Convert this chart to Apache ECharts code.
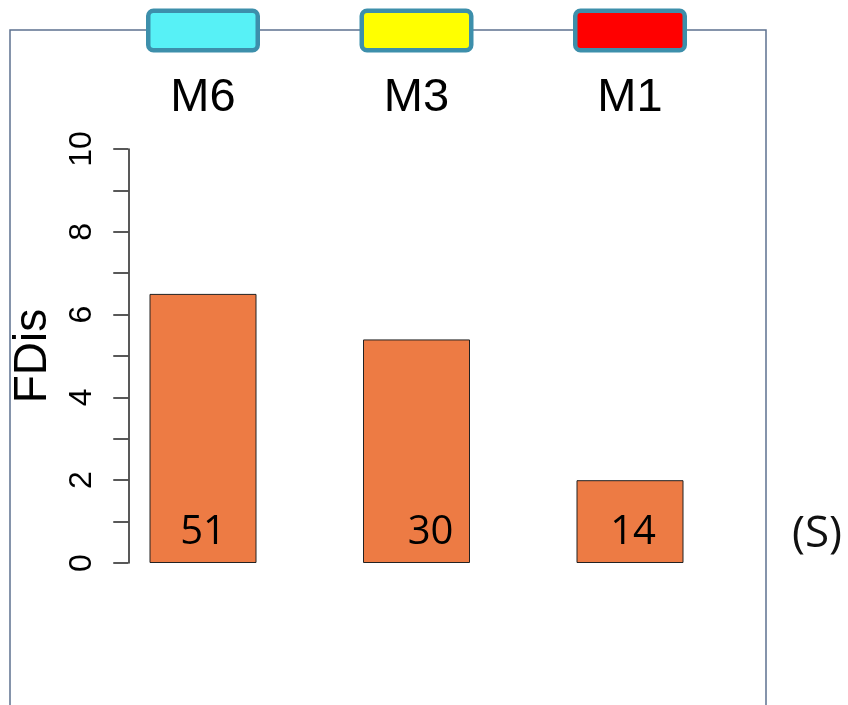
<!DOCTYPE html>
<html>
<head>
<meta charset="utf-8">
<script src="https://cdn.jsdelivr.net/npm/echarts@6/dist/echarts.min.js"></script>
<style>
html, body { margin: 0; padding: 0; background: #fff; }
#main { width: 848px; height: 705px; }
</style>
</head>
<body>
<div id="main"></div>
<script>
// 类别、数值
let categories = ['M6', 'M3', 'M1'];
let fdisValues = [6.5, 5.4, 2.0];
let countLabels = ['51', '30', '14'];
let boxColors = ['#57f1f6', '#ffff00', '#ff0000'];
let yTicks = [0, 2, 4, 6, 8, 10];

let labelShift = [0, 14, 3]; // 柱内数字的水平偏移

let myChart = echarts.init(document.getElementById('main'));

// 顶部彩色方块 rich 样式
let boxRich = {};
boxColors.forEach(function (c, i) {
    boxRich['b' + i] = {
        width: 105,
        height: 35,
        backgroundColor: c,
        borderColor: '#3d8fab',
        borderWidth: 4.5,
        borderRadius: 3,
        fontSize: 1
    };
});

let option = {
    animation: false,
    grid: {
        left: 96.25,
        width: 640.5,
        top: 149,
        height: 414
    },
    title: {
        text: '(S)',
        left: 787,
        top: 507,
        textStyle: {
            fontFamily: 'Open Sans',
            fontSize: 44,
            fontWeight: 'normal',
            color: '#111'
        }
    },
    graphic: [{
        type: 'rect',
        z: -10,
        shape: { x: 10, y: 30, width: 756, height: 720 },
        style: { fill: 'none', stroke: '#5d7290', lineWidth: 1.5 }
    }],
    xAxis: [{
        type: 'category',
        data: categories,
        axisLine: { show: false },
        axisTick: { show: false },
        axisLabel: { show: false }
    }, {
        type: 'category',
        position: 'top',
        data: categories,
        axisLine: { show: false },
        axisTick: { show: false },
        axisLabel: {
            margin: 27,
            fontFamily: 'Liberation Sans',
            fontSize: 47,
            lineHeight: 47,
            color: '#000'
        }
    }, {
        type: 'category',
        position: 'top',
        data: categories,
        axisLine: { show: false },
        axisTick: { show: false },
        axisLabel: {
            margin: 101,
            formatter: function (v, i) {
                return '{b' + i + '| }';
            },
            rich: boxRich
        }
    }],
    yAxis: {
        type: 'value',
        min: 0,
        max: 10,
        interval: 1,
        offset: -32,
        name: 'FDis',
        nameLocation: 'middle',
        nameRotate: 90,
        nameGap: 72,
        nameTextStyle: {
            fontFamily: 'Liberation Sans',
            fontSize: 46,
            color: '#000'
        },
        axisLine: { show: true, lineStyle: { color: '#222', width: 1.5 } },
        axisTick: { show: true, length: 15, lineStyle: { color: '#222', width: 1.5 } },
        splitLine: { show: false },
        axisLabel: {
            rotate: 90,
            margin: 30,
            fontFamily: 'Liberation Sans',
            fontSize: 32,
            color: '#000',
            formatter: function (v) {
                return yTicks.indexOf(v) >= 0 ? String(v) : '';
            }
        }
    },
    series: [{
        type: 'bar',
        barWidth: 107,
        data: fdisValues.map(function (v, i) {
            return {
                value: v,
                label: { offset: [labelShift[i], 0] }
            };
        }),
        itemStyle: {
            color: '#ed7b44',
            borderColor: '#222',
            borderWidth: 1
        },
        label: {
            show: true,
            position: 'insideBottom',
            distance: 10,
            fontFamily: 'Open Sans',
            fontSize: 40,
            lineHeight: 40,
            color: '#000',
            formatter: function (p) {
                return countLabels[p.dataIndex];
            }
        }
    }]
};

myChart.setOption(option);
</script>
</body>
</html>
